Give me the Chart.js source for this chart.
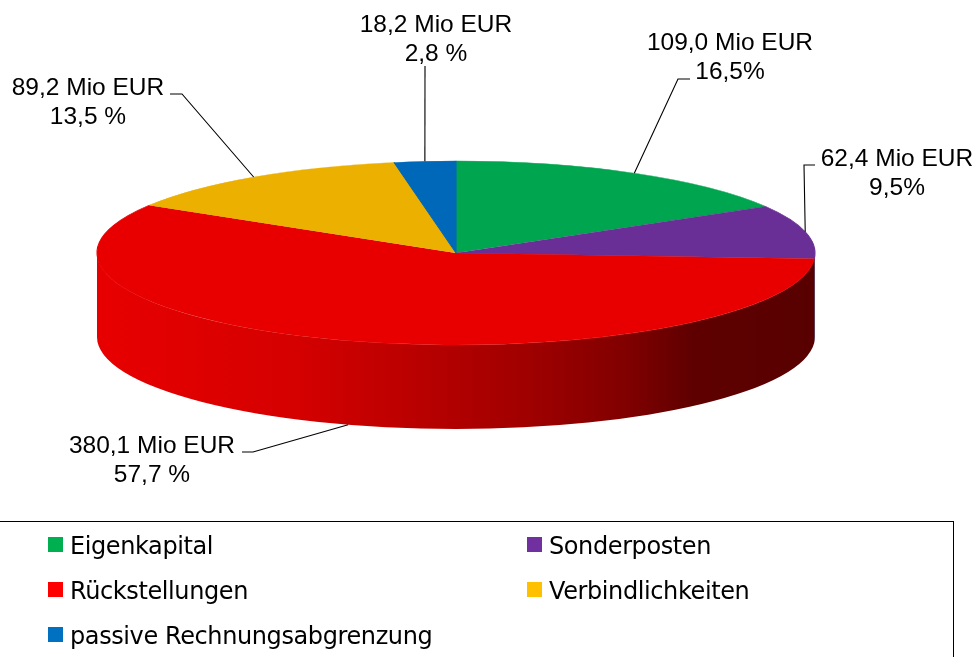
<!DOCTYPE html>
<html>
<head>
<meta charset="utf-8">
<script src="https://cdn.jsdelivr.net/npm/chart.js@4.4.1/dist/chart.umd.min.js"></script>
<style>
  body { margin: 0; background: #fff; width: 979px; height: 657px; overflow: hidden; position: relative; }
  #pie { position: absolute; left: 0; top: 0; }
  #legendBox { position: absolute; left: -1px; top: 521px; width: 955px; height: 200px; border: 1px solid #000; box-sizing: border-box; }
  .item { position: absolute; font-family: "DejaVu Sans", sans-serif; font-size: 24px; letter-spacing: -0.4px; line-height: 27px; color: #000; padding-left: 22px; white-space: nowrap; }
  .item span { position: absolute; left: 0; top: 4px; width: 15px; height: 15px; }
</style>
</head>
<body>
<canvas id="pie" width="979" height="657"></canvas>
<div id="legendBox"></div>
<div id="legend"></div>
<script>
// data
const categories = ['Eigenkapital', 'Sonderposten', 'Rückstellungen', 'Verbindlichkeiten', 'passive Rechnungsabgrenzung'];
const amounts = [109.0, 62.4, 380.1, 89.2, 18.2];
const shareLabels = ['16,5%', '9,5%', '57,7 %', '13,5 %', '2,8 %'];

// colours
const topColors = ['#00a54f', '#6a2f96', '#e80000', '#ecb000', '#0068b8'];
const legendColors = ['#00b050', '#7030a0', '#ff0000', '#ffc000', '#0070c0'];

// 3d disc geometry (screen px)
const CX = 456, CY = 253, RX = 359, RY = 92, DEPTH = 84;

// where the value labels sit, and the elbow of their leader lines
const labelSpots = [
    { x: 730, y: 50, hx: 690, hy: 79, ex: -12 },
    { x: 897, y: 166, hx: 815, hy: 165, ex: -11 },
    { x: 152, y: 453, hx: 242, hy: 452, ex: 11 },
    { x: 88, y: 95, hx: 170, hy: 94, ex: 12 },
    { x: 436, y: 32, hx: 425, hy: 66, ex: 0 }
];

function shade(hex, f) {
    const n = parseInt(hex.slice(1), 16);
    const r = Math.round(((n >> 16) & 255) * f);
    const g = Math.round(((n >> 8) & 255) * f);
    const b = Math.round((n & 255) * f);
    return `rgb(${r},${g},${b})`;
}

const sideStops = [[0, 1], [0.28, 0.92], [0.46, 0.79], [0.6, 0.69], [0.74, 0.55], [0.83, 0.41], [1, 0.38]];

const disc3d = {
    id: 'disc3d',
    beforeDatasetsDraw(chart) {
        const ctx = chart.ctx;
        const arcs = chart.getDatasetMeta(0).data;
        // side wall, front half only (canvas angles 0..PI)
        arcs.forEach((arc, i) => {
            const lo = Math.max(arc.startAngle, 0);
            const hi = Math.min(arc.endAngle, Math.PI);
            if (hi <= lo) return;
            const grad = ctx.createLinearGradient(CX - RX, 0, CX + RX, 0);
            sideStops.forEach(s => grad.addColorStop(s[0], shade(topColors[i], s[1])));
            ctx.save();
            ctx.beginPath();
            ctx.ellipse(CX, CY, RX, RY, 0, lo, hi);
            ctx.ellipse(CX, CY + DEPTH, RX, RY, 0, hi, lo, true);
            ctx.closePath();
            ctx.fillStyle = grad;
            ctx.fill();
            ctx.restore();
        });
        // squash the pie into the top face
        const a = arcs[0];
        ctx.save();
        ctx.translate(CX, CY);
        ctx.scale(RX / a.outerRadius, RY / a.outerRadius);
        ctx.translate(-a.x, -a.y);
    },
    afterDatasetsDraw(chart) {
        const ctx = chart.ctx;
        ctx.restore();
        const arcs = chart.getDatasetMeta(0).data;
        ctx.save();
        ctx.font = '24.5px "Liberation Sans", Arial, sans-serif';
        ctx.fillStyle = '#000';
        ctx.strokeStyle = '#000';
        ctx.lineWidth = 1.1;
        ctx.textAlign = 'center';
        arcs.forEach((arc, i) => {
            const m = (arc.startAngle + arc.endAngle) / 2;
            let ax = CX + RX * Math.cos(m);
            let ay = CY + RY * Math.sin(m);
            if (Math.sin(m) > 0.3) ay += DEPTH;
            const s = labelSpots[i];
            ctx.beginPath();
            ctx.moveTo(s.hx, s.hy);
            ctx.lineTo(s.hx + s.ex, s.hy);
            ctx.lineTo(ax, ay);
            ctx.stroke();
            const first = amounts[i].toFixed(1).replace('.', ',') + ' Mio EUR';
            ctx.fillText(first, s.x, s.y);
            ctx.fillText(shareLabels[i], s.x, s.y + 29);
        });
        ctx.restore();
    }
};

new Chart(document.getElementById('pie'), {
    type: 'pie',
    data: {
        labels: categories,
        datasets: [{
            data: amounts,
            backgroundColor: topColors,
            borderColor: topColors,
            borderWidth: 1,
            clip: false
        }]
    },
    options: {
        responsive: false,
        animation: false,
        events: [],
        plugins: {
            legend: { display: false },
            tooltip: { enabled: false }
        }
    },
    plugins: [disc3d]
});

// legend, two columns
const legendEl = document.getElementById('legend');
const colX = [48, 527];
const rowTop = [533, 578, 623];
categories.forEach((name, i) => {
    const d = document.createElement('div');
    d.className = 'item';
    d.style.left = colX[i % 2] + 'px';
    d.style.top = rowTop[Math.floor(i / 2)] + 'px';
    d.innerHTML = `<span style="background:${legendColors[i]}"></span>${name}`;
    legendEl.appendChild(d);
});
</script>
</body>
</html>
